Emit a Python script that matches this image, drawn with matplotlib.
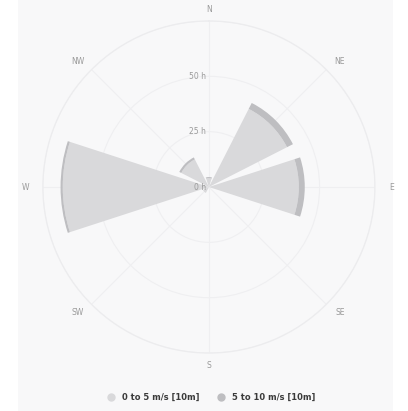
import matplotlib.pyplot as plt
import matplotlib.patches as mpatches
import numpy as np

# wind rose: hours per direction and speed band
directions = ['N', 'NE', 'E', 'SE', 'S', 'SW', 'W', 'NW']
angles_deg = [0, 45, 90, 135, 180, 225, 270, 315]
low_speed = [4, 39.6, 40.6, 0, 0, 3, 66, 14]      # 0 to 5 m/s [10m]
mid_speed = [0.5, 3, 2.7, 0, 0, 0, 1, 1]          # 5 to 10 m/s [10m]
series_names = ['0 to 5 m/s [10m]', '5 to 10 m/s [10m]']
r_ticks = [0, 25, 50]
r_labels = ['0 h', '25 h', '50 h']

c_low = '#d9d9db'
c_mid = '#bebec1'
grid_c = '#efeff1'
lbl_c = '#9a9a9a'

fig = plt.figure(figsize=(4.08, 4.11), dpi=100)
fig.patch.set_facecolor('white')
fig.patches.append(mpatches.Rectangle((18 / 408, 0), (393 - 18) / 408, 1,
                                      transform=fig.transFigure,
                                      facecolor='#f8f8f9', edgecolor='none',
                                      zorder=-10))

ax = fig.add_axes([0.105, 0.141, 0.814, 0.808], projection='polar')
ax.set_facecolor('none')
ax.set_theta_zero_location('N')
ax.set_theta_direction(-1)

theta = np.deg2rad(angles_deg)
width = np.deg2rad(36)
ax.bar(theta, low_speed, width=width, color=c_low, edgecolor='none', zorder=3)
ax.bar(theta, mid_speed, width=width, bottom=low_speed, color=c_mid,
       edgecolor='none', zorder=3)

ax.set_ylim(0, 75)
ax.set_yticks([25, 50, 75])
ax.set_yticklabels([])
ax.set_xticks(theta)
ax.set_xticklabels([])
ax.grid(True, color=grid_c, lw=0.8)
ax.spines['polar'].set_color('#ececee')
ax.spines['polar'].set_linewidth(0.9)

# compass labels just outside the rim, nudged sideways a little
for th, d in zip(theta, directions):
    dx = 3.6 * np.sign(np.round(np.sin(th), 3))
    ax.annotate(d, xy=(th, 80.4), xytext=(dx, 0), textcoords='offset points',
                ha='center', va='center', fontsize=5.5, color=lbl_c,
                annotation_clip=False)

for r, txt in zip(r_ticks, r_labels):
    ax.annotate(txt, xy=(0, r), xytext=(-2, 0), textcoords='offset points',
                ha='right', va='center', fontsize=5.5, color=lbl_c, zorder=5)

handles = [plt.Line2D([], [], ls='none', marker='o', ms=5, color=c)
           for c in (c_low, c_mid)]
leg = fig.legend(handles, series_names, loc='center', ncol=2,
                 bbox_to_anchor=(0.512, 0.032), frameon=False,
                 handletextpad=0.3, columnspacing=1.6,
                 prop={'size': 6, 'weight': 'bold'})
for t in leg.get_texts():
    t.set_color('#3a3a3a')

fig.savefig('out.png', dpi=100)
